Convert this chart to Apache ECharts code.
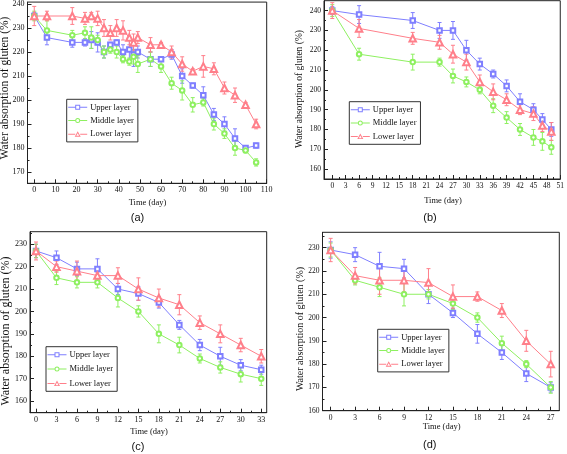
<!DOCTYPE html>
<html><head><meta charset="utf-8">
<script src="https://cdn.jsdelivr.net/npm/echarts@6/dist/echarts.min.js"></script>
<style>html,body{margin:0;padding:0;background:#fff}#c{width:567px;height:454px}</style>
</head><body><div id="c"></div>
<script>
const seriesNames = ['Upper layer', 'Middle layer', 'Lower layer'];
const xTitle = 'Time (day)';
const yTitle = 'Water absorption of gluten (%)';
const panelLabels = ['(a)', '(b)', '(c)', '(d)'];

// Panel (a)
const daysA = [0, 6, 18, 24, 27, 30, 33, 36, 39, 42, 45, 47, 49, 55, 60, 65, 70, 75, 80, 85, 90, 95, 100, 105];
const upperA = [235, 226, 224, 224, 225, 224, 220, 223, 224, 220, 221, 219, 220, 217, 217, 219, 210, 206, 202, 194, 190, 184, 180, 181];
const upperErrA = [1.5, 3, 2, 1.5, 3.5, 4, 2.5, 1, 1, 3, 4, 5, 2.5, 3, 1, 2, 3, 1, 3.5, 2.5, 3, 4, 1, 1];
const middleA = [235, 229, 227, 228, 226, 225, 220, 221, 220, 217, 216, 218, 215, 217, 214, 207, 204, 198, 199, 190, 186, 180, 179, 174];
const middleErrA = [2, 4, 2, 2.5, 4.5, 2, 2.5, 1.5, 2.5, 1.5, 1.5, 3, 3.5, 3, 2.5, 2.5, 4, 3, 1.5, 2.5, 2, 3, 1, 1.5];
const lowerA = [235, 235, 235, 234, 235, 234, 230, 228, 230, 229, 226, 224, 226, 223, 223, 220, 215, 212, 214, 213, 205, 202, 198, 190];
const lowerErrA = [4, 2, 3.5, 2.5, 1.5, 3, 3.5, 3, 3.5, 4, 3, 3.5, 2.5, 3, 1, 2.5, 3, 1, 4.5, 2.5, 2.5, 3, 1, 2];
const xTicksA = [0, 10, 20, 30, 40, 50, 60, 70, 80, 90, 100, 110];
const xMinorA = [5, 15, 25, 35, 45, 55, 65, 75, 85, 95, 105];
const yTicksA = [170, 180, 190, 200, 210, 220, 230, 240];
const yMinorA = [175, 185, 195, 205, 215, 225, 235];

// Panel (b)
const daysB = [0, 6, 18, 24, 27, 30, 33, 36, 39, 42, 45, 47, 49];
const upperB = [240, 238, 235, 230, 230, 220, 213, 208, 202, 194, 190, 185, 180];
const upperErrB = [2, 4.5, 4, 4, 4.5, 5, 3, 2, 3, 4, 3, 3, 3.5];
const middleB = [240, 218, 214, 214, 207, 204, 200, 192, 186, 180, 176, 174, 171];
const middleErrB = [3, 3, 4, 2, 3.5, 2.5, 2, 3.5, 3, 3, 4, 4.5, 3.5];
const lowerB = [240, 231, 226, 224, 218, 214, 204, 199, 195, 190, 188, 182, 179];
const lowerErrB = [4, 4.5, 3, 3.5, 4.5, 4, 3.5, 4, 3, 2.5, 3.5, 3, 4.5];
const xTicksB = [0, 3, 6, 9, 12, 15, 18, 21, 24, 27, 30, 33, 36, 39, 42, 45, 48, 51];
const xMinorB = [1.5, 4.5, 7.5, 10.5, 13.5, 16.5, 19.5, 22.5, 25.5, 28.5, 31.5, 34.5, 37.5, 40.5, 43.5, 46.5, 49.5];
const yTicksB = [160, 170, 180, 190, 200, 210, 220, 230, 240];
const yMinorB = [165, 175, 185, 195, 205, 215, 225, 235];

// Panel (c)
const daysC = [0, 3, 6, 9, 12, 15, 18, 21, 24, 27, 30, 33];
const upperC = [227, 224, 219, 219, 210, 208, 204, 194, 185, 180, 176, 174];
const upperErrC = [3, 3, 3, 4.5, 2.5, 3, 2.5, 2, 2.5, 4, 2.5, 2];
const middleC = [227, 215, 213, 213, 206, 200, 190, 185, 179, 175, 172, 170];
const middleErrC = [3, 3, 2.5, 2.5, 4, 2.5, 4, 3.5, 2, 2.5, 3.5, 3];
const lowerC = [227, 220, 218, 216, 216, 210, 206, 203, 195, 190, 185, 180];
const lowerErrC = [4, 2.5, 4.5, 1.5, 3.5, 5, 4, 4.5, 3, 4, 3, 3];
const xTicksC = [0, 3, 6, 9, 12, 15, 18, 21, 24, 27, 30, 33];
const xMinorC = [1.5, 4.5, 7.5, 10.5, 13.5, 16.5, 19.5, 22.5, 25.5, 28.5, 31.5];
const yTicksC = [160, 170, 180, 190, 200, 210, 220, 230];
const yMinorC = [165, 175, 185, 195, 205, 215, 225, 235];

// Panel (d)
const daysD = [0, 3, 6, 9, 12, 15, 18, 21, 24, 27];
const upperD = [229, 227, 222, 221, 210, 202, 193, 185, 176, 170];
const upperErrD = [3.5, 3, 6, 4, 4, 2, 4, 3, 3.5, 2];
const middleD = [229, 216, 213, 210, 210, 206, 200, 189, 180, 170];
const middleErrD = [3, 2, 4, 5, 2, 2.5, 2, 3, 1.5, 2.5];
const lowerD = [229, 218, 216, 216, 215, 209, 209, 203, 190, 180];
const lowerErrD = [5, 3.5, 6, 5, 6, 5, 2, 3, 4.5, 5.5];
const xTicksD = [0, 3, 6, 9, 12, 15, 18, 21, 24, 27];
const xMinorD = [1.5, 4.5, 7.5, 10.5, 13.5, 16.5, 19.5, 22.5, 25.5];
const yTicksD = [160, 170, 180, 190, 200, 210, 220, 230];
const yMinorD = [165, 175, 185, 195, 205, 215, 225, 235];

const colors = ['#7f7fff', '#8ef060', '#ff7f8a'];
const symbols = ['emptyRect', 'emptyCircle', 'emptyTriangle'];
const symbolSizes = [4.5, 4.5, 6.5];
const SERIF = 'Liberation Serif';

// legend icons: line sample with a hollow marker (drawn as filled outlines in a 19x6 box)
const lineBits = 'M0,2.5 H7 V3.5 H0 Z M12,2.5 H19 V3.5 H12 Z ';
const legendIcons = [
  'path://' + lineBits + 'M7,0.5 H12 V5.5 H7 Z M8,1.5 V4.5 H11 V1.5 Z',
  'path://' + lineBits + 'M7,3 A2.5,2.5 0 1,0 12,3 A2.5,2.5 0 1,0 7,3 Z M8,3 A1.5,1.5 0 1,1 11,3 A1.5,1.5 0 1,1 8,3 Z',
  'path://' + lineBits + 'M6.5,5.5 L9.5,0 L12.5,5.5 Z M8.1,4.6 L10.9,4.6 L9.5,2 Z'
];

const panels = [
  { days: daysA, vals: [upperA, middleA, lowerA], errs: [upperErrA, middleErrA, lowerErrA],
    xT: xTicksA, xM: xMinorA, yT: yTicksA, yM: yMinorA,
    grid: { left: 27.5, top: 2, width: 239.2, height: 181.3 }, xr: [-3.2, 110], yr: [165.3, 240.8],
    legend: { left: 66.7, top: 99.3, gap: 4.3 }, tick: 8,
    yTitle: { x: 5, y: 88, size: 11.5 }, xTitle: { x: 147.5, y: 202.7 }, lab: { x: 137.5, y: 218 } },
  { days: daysB, vals: [upperB, middleB, lowerB], errs: [upperErrB, middleErrB, lowerErrB],
    xT: xTicksB, xM: xMinorB, yT: yTicksB, yM: yMinorB,
    grid: { left: 324, top: 0.7, width: 238.7, height: 178.3 }, xr: [-1.85, 51], yr: [155, 245],
    legend: { left: 349.3, top: 101.7, gap: 4.3 }, tick: 7.5,
    yTitle: { x: 299, y: 89, size: 9.5 }, xTitle: { x: 443, y: 201 }, lab: { x: 430, y: 218 } },
  { days: daysC, vals: [upperC, middleC, lowerC], errs: [upperErrC, middleErrC, lowerErrC],
    xT: xTicksC, xM: xMinorC, yT: yTicksC, yM: yMinorC,
    grid: { left: 30, top: 231.7, width: 236.7, height: 181 }, xr: [-0.88, 33.8], yr: [154.8, 235.6],
    legend: { left: 46, top: 346.7, gap: 5.3 }, tick: 8,
    yTitle: { x: 6, y: 331, size: 12 }, xTitle: { x: 149, y: 431.7 }, lab: { x: 138, y: 446.7 } },
  { days: daysD, vals: [upperD, middleD, lowerD], errs: [upperErrD, middleErrD, lowerErrD],
    xT: xTicksD, xM: xMinorD, yT: yTicksD, yM: yMinorD,
    grid: { left: 322.5, top: 232.3, width: 236.8, height: 178.4 }, xr: [-1, 28.05], yr: [160, 236.6],
    legend: { left: 377.7, top: 329.3, gap: 4.3 }, tick: 7.5,
    yTitle: { x: 300, y: 329, size: 10 }, xTitle: { x: 441.7, y: 427 }, lab: { x: 429.7, y: 445 } }
];

function errItem(params, api) {
  const x = api.value(0), y = api.value(1), e = api.value(2);
  const top = api.coord([x, y + e]), bot = api.coord([x, y - e]);
  const hw = 2;
  const style = { stroke: api.visual('color'), lineWidth: 1, fill: null };
  return { type: 'group', children: [
    { type: 'line', shape: { x1: top[0], y1: top[1], x2: bot[0], y2: bot[1] }, style },
    { type: 'line', shape: { x1: top[0] - hw, y1: top[1], x2: top[0] + hw, y2: top[1] }, style },
    { type: 'line', shape: { x1: bot[0] - hw, y1: bot[1], x2: bot[0] + hw, y2: bot[1] }, style }
  ] };
}

const option = { animation: false, grid: [], xAxis: [], yAxis: [], series: [], legend: [], graphic: [] };
const axisColor = '#222';
panels.forEach((p, i) => {
  option.grid.push(Object.assign({ show: true, borderColor: axisColor, borderWidth: 1, backgroundColor: 'transparent' }, p.grid));
  const xi = option.xAxis.length, yi = option.yAxis.length;
  option.xAxis.push({ type: 'value', gridIndex: i, position: 'bottom', min: p.xr[0], max: p.xr[1],
    axisLine: { show: true, onZero: false, lineStyle: { color: axisColor, width: 1 } },
    axisTick: { show: true, inside: true, length: 4, customValues: p.xT, lineStyle: { color: axisColor } },
    axisLabel: { show: true, customValues: p.xT, margin: 3, showMinLabel: true, showMaxLabel: true, hideOverlap: false,
      color: '#111', fontFamily: SERIF, fontSize: p.tick },
    splitLine: { show: false } });
  option.yAxis.push({ type: 'value', gridIndex: i, position: 'left', min: p.yr[0], max: p.yr[1],
    axisLine: { show: true, onZero: false, lineStyle: { color: axisColor, width: 1 } },
    axisTick: { show: true, inside: true, length: 4, customValues: p.yT, lineStyle: { color: axisColor } },
    axisLabel: { show: true, customValues: p.yT, margin: 3, showMinLabel: true, showMaxLabel: true, hideOverlap: false,
      color: '#111', fontFamily: SERIF, fontSize: p.tick },
    splitLine: { show: false } });
  option.xAxis.push({ type: 'value', gridIndex: i, position: 'bottom', min: p.xr[0], max: p.xr[1],
    axisLine: { show: false, onZero: false },
    axisTick: { show: true, inside: true, length: 2, customValues: p.xM, lineStyle: { color: axisColor } },
    axisLabel: { show: false }, splitLine: { show: false } });
  option.yAxis.push({ type: 'value', gridIndex: i, position: 'left', min: p.yr[0], max: p.yr[1],
    axisLine: { show: false, onZero: false },
    axisTick: { show: true, inside: true, length: 2, customValues: p.yM, lineStyle: { color: axisColor } },
    axisLabel: { show: false }, splitLine: { show: false } });

  p.vals.forEach((vals, k) => {
    option.series.push({ type: 'custom', name: seriesNames[k] + ' error', xAxisIndex: xi, yAxisIndex: yi,
      renderItem: errItem, itemStyle: { color: colors[k] }, clip: false, z: 2,
      data: p.days.map((d, j) => [d, vals[j], p.errs[k][j]]) });
    option.series.push({ type: 'line', name: seriesNames[k], xAxisIndex: xi, yAxisIndex: yi,
      symbol: symbols[k], symbolSize: symbolSizes[k], showSymbol: true,
      lineStyle: { color: colors[k], width: 1 }, itemStyle: { color: colors[k], borderWidth: 1 },
      z: 3, data: p.days.map((d, j) => [d, vals[j]]) });
  });

  option.legend.push({ data: seriesNames.map((n, k) => ({ name: n, icon: legendIcons[k],
      itemStyle: { color: colors[k], borderWidth: 0 } })),
    orient: 'vertical', left: p.legend.left, top: p.legend.top,
    itemWidth: 19, itemHeight: 6, itemGap: p.legend.gap, padding: [3.5, 4, 3.5, 1.5],
    borderColor: '#333', borderWidth: 1, selectedMode: false,
    textStyle: { fontFamily: SERIF, fontSize: 8.5, color: '#111', padding: [0, 0, 0, -2] } });

  option.graphic.push({ type: 'text', x: p.yTitle.x, y: p.yTitle.y, rotation: Math.PI / 2,
    style: { text: yTitle, font: p.yTitle.size + 'px "' + SERIF + '"', fill: '#111', align: 'center', verticalAlign: 'middle' } });
  option.graphic.push({ type: 'text', x: p.xTitle.x, y: p.xTitle.y,
    style: { text: xTitle, font: '8.5px "' + SERIF + '"', fill: '#111', align: 'center', verticalAlign: 'middle' } });
  option.graphic.push({ type: 'text', x: p.lab.x, y: p.lab.y,
    style: { text: panelLabels[i], font: '11px "Liberation Sans"', fill: '#111', align: 'center', verticalAlign: 'middle' } });
});

const chart = echarts.init(document.getElementById('c'), null, { renderer: 'canvas' });
chart.setOption(option);
</script>
</body></html>
